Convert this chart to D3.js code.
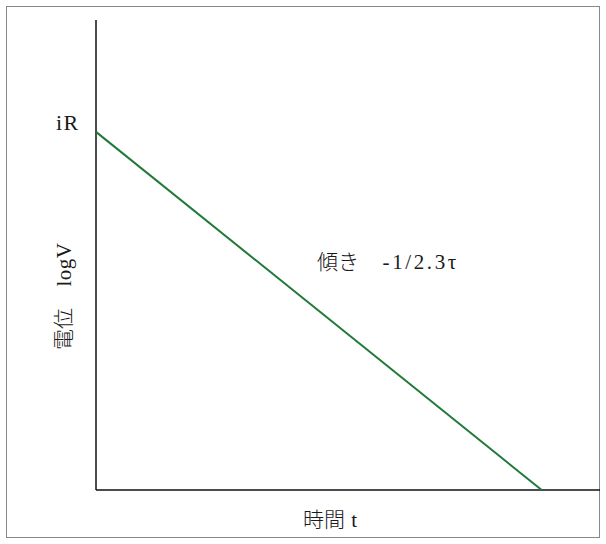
<!DOCTYPE html>
<html><head><meta charset="utf-8">
<script src="https://cdn.jsdelivr.net/npm/d3@7"></script>
<style>
html,body{margin:0;padding:0;background:#fff;}
text{font-family:"Liberation Serif","Noto Sans CJK JP",serif;fill:#1a1a1a;}
.cjk{font-family:"Noto Sans CJK JP",sans-serif;font-weight:300;}
</style></head>
<body><svg id="c" width="606" height="544"></svg>
<script>
// data
const lineTime = [0, 0.886];        // time (fraction of axis)
const lineLogV = [0.762, 0];        // logV (fraction of axis)
const yTickLabels = ["iR"];
const xAxisLabel = ["時間", " t"];
const yAxisLabel = ["電位", "　logV"];
const slopeLabel = ["傾き", "　-1/2.3τ"];

const svg = d3.select("#c");
svg.append("rect").attr("x",6.5).attr("y",6.5).attr("width",593).attr("height",531)
  .attr("fill","none").attr("stroke","#888").attr("stroke-width",1);

const m = {l:96, t:20, r:600, b:490};
const x = d3.scaleLinear().domain([0,1]).range([m.l, m.r - 1]);
const y = d3.scaleLinear().domain([0,1]).range([m.b, m.t]);

svg.append("line").attr("x1",m.l).attr("x2",m.l).attr("y1",m.t).attr("y2",m.b)
  .attr("stroke","#111").attr("stroke-width",1.5);
svg.append("line").attr("x1",m.l).attr("x2",m.r).attr("y1",m.b).attr("y2",m.b)
  .attr("stroke","#111").attr("stroke-width",1.5);

const pts = lineTime.map((t,i)=>[t, lineLogV[i]]);
svg.append("path").attr("d", d3.line().x(d=>x(d[0])).y(d=>y(d[1]))(pts))
  .attr("fill","none").attr("stroke","#1f7a3a").attr("stroke-width",2);

svg.append("text").attr("x",56).attr("y",y(lineLogV[0])-2)
  .attr("font-size",22).attr("letter-spacing",1.5).text(yTickLabels[0]);

function mixed(sel, parts, latinSpacing){
  sel.append("tspan").attr("class","cjk").text(parts[0]);
  sel.append("tspan").attr("letter-spacing",latinSpacing).text(parts[1]);
  return sel;
}
mixed(svg.append("text").attr("x",303).attr("y",527).attr("font-size",21), xAxisLabel, 1);
mixed(svg.append("text").attr("transform","translate(71,350) rotate(-90)").attr("font-size",21), yAxisLabel, 0.5);
mixed(svg.append("text").attr("x",317).attr("y",269).attr("font-size",21), slopeLabel, 2.6);
</script></body></html>
